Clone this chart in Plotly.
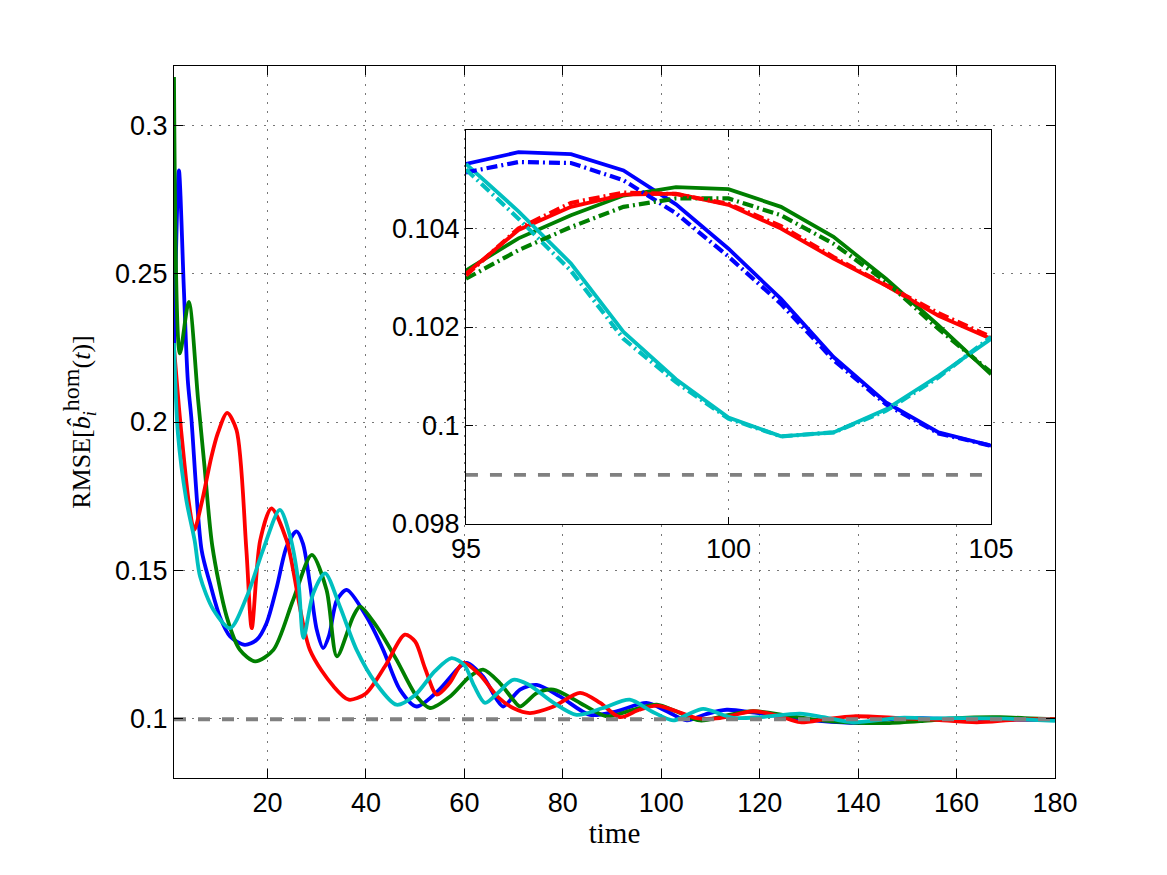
import plotly.graph_objects as go

# ---------------- main panel data (key samples) ----------------
t_blue = [1, 2, 3, 3.8, 4.5, 6.6, 8.3, 10.3, 12.4, 15.4, 17.8, 19.8, 21.9, 23.9, 25.9, 27.2, 28.6, 30, 31.3,
          32.5, 34.1, 36.1, 40.1, 43.5, 46.9, 50.3, 54.9, 59.1, 60.5, 63.8, 66.6, 67.9, 71.3, 74.7, 79.4,
          85.5, 90.9, 97, 101, 105.2, 109, 113.3, 119, 125.5, 132, 140.4, 148.5, 156, 165, 172, 180]
v_blue = [0.225, 0.2848, 0.245, 0.2141, 0.2018, 0.1569, 0.1457, 0.1344, 0.1277, 0.1249, 0.1266, 0.1322, 0.1445,
          0.158, 0.1631, 0.159, 0.1457, 0.130, 0.1238, 0.128, 0.140, 0.1434, 0.1344, 0.1232, 0.1098, 0.1041,
          0.1098, 0.1176, 0.1188, 0.1142, 0.1064, 0.1041, 0.1098, 0.1114, 0.1075, 0.1013, 0.1025, 0.1053,
          0.1026, 0.0994, 0.1015, 0.1030, 0.1020, 0.1005, 0.0993, 0.0986, 0.1002, 0.1000, 0.0995, 0.0997, 0.0995]

t_green = [1, 2.2, 4, 5.9, 7.2, 8.8, 11.7, 14.4, 17.5, 21.2, 25.2, 29, 32, 34.1, 37.4, 38.8, 42.2, 46.2, 50.3,
           53, 57.1, 61.1, 63.8, 67.2, 69.9, 71.3, 74.7, 78.1, 83.5, 88.9, 94.3, 99.1, 103, 107.9, 113,
           118.7, 125, 132, 138, 145.8, 153, 160, 168.8, 175, 180]
v_green = [0.3163, 0.2231, 0.2405, 0.2074, 0.185, 0.158, 0.1344, 0.1232, 0.1193, 0.1232, 0.140, 0.1552, 0.1434,
           0.121, 0.1344, 0.1378, 0.131, 0.1199, 0.1075, 0.1036, 0.1075, 0.1142, 0.1165, 0.112, 0.1064,
           0.1041, 0.1086, 0.1098, 0.1053, 0.1008, 0.1030, 0.1047, 0.1025, 0.0994, 0.1010, 0.1025, 0.1012,
           0.0995, 0.0988, 0.0985, 0.0992, 0.1002, 0.1005, 0.1001, 0.0998]

t_red = [1, 2, 3, 4, 5.1, 6.6, 8.6, 9.9, 11.8, 13.7, 15.7, 16.8, 18.5, 20.8, 23.9, 28.6, 33.4, 36.5, 40, 44,
         47.9, 50, 52, 54.4, 57, 59.8, 63, 67, 70, 73.3, 78, 83.5, 87.6, 91.6, 95.5, 99.1, 103.1, 107.2,
         111.9, 118.7, 124.1, 128.2, 133.6, 139, 148.5, 155.3, 164.1, 172.2, 180]
v_red = [0.225, 0.205, 0.188, 0.173, 0.1636, 0.1726, 0.1883, 0.1962, 0.2031, 0.1973, 0.157, 0.1305, 0.160,
         0.1709, 0.160, 0.1232, 0.1109, 0.1064, 0.1085, 0.118, 0.1283, 0.126, 0.117, 0.1081, 0.112, 0.1188,
         0.115, 0.107, 0.1035, 0.1019, 0.1040, 0.1087, 0.1053, 0.1005, 0.1030, 0.1044, 0.1025, 0.1002,
         0.1002, 0.1025, 0.1008, 0.0988, 0.0999, 0.1008, 0.1002, 0.0997, 0.0988, 0.0997, 0.0998]

t_cyan = [1, 1.8, 3.5, 5.2, 6.3, 9, 12.4, 15.8, 19.1, 22.5, 24.6, 26.3, 27.3, 29.3, 31.7, 34.7, 38.1, 42,
          46.2, 50, 54, 57.4, 60, 62, 64.2, 67, 69.9, 73, 78, 82.8, 88, 93.6, 98, 102.4, 105.5, 108.5,
          114.6, 120, 128.2, 133, 139, 148.5, 155, 162, 170, 180]
v_cyan = [0.2266, 0.196, 0.1737, 0.160, 0.1479, 0.1367, 0.1305, 0.1412, 0.1569, 0.1704, 0.1614, 0.1457,
          0.1272, 0.1423, 0.149, 0.1378, 0.1232, 0.112, 0.1047, 0.108, 0.116, 0.1204, 0.118, 0.111, 0.1053,
          0.109, 0.1131, 0.1115, 0.1055, 0.1013, 0.1035, 0.1064, 0.1025, 0.0994, 0.1015, 0.1033, 0.1003,
          0.1005, 0.1017, 0.1005, 0.0988, 0.1003, 0.1001, 0.1002, 0.1000, 0.0993]

t_ref = [1, 180]
v_ref = [0.0998, 0.0998]

# ---------------- inset data ----------------
t_in = [95, 96, 97, 98, 99, 100, 101, 102, 103, 104, 105]
blue_in = [0.10531, 0.10555, 0.10551, 0.10518, 0.10449, 0.10359, 0.10257, 0.10139, 0.10047, 0.09986, 0.09959]
blue_in_d = [0.10514, 0.10535, 0.10533, 0.10498, 0.10431, 0.10343, 0.10247, 0.10133, 0.10043, 0.09984, 0.09959]
green_in = [0.10315, 0.10380, 0.10427, 0.10467, 0.10484, 0.10480, 0.10444, 0.10383, 0.10298, 0.10203, 0.10104]
green_in_d = [0.10298, 0.10356, 0.10403, 0.10444, 0.10461, 0.10461, 0.10427, 0.10369, 0.10292, 0.10196, 0.10108]
red_in = [0.10308, 0.10397, 0.10444, 0.10469, 0.10471, 0.10448, 0.10400, 0.10339, 0.10284, 0.10223, 0.10176]
red_in_d = [0.10305, 0.10400, 0.10452, 0.10473, 0.10470, 0.10450, 0.10405, 0.10342, 0.10285, 0.10228, 0.10180]
cyan_in = [0.10531, 0.10435, 0.10329, 0.10190, 0.10094, 0.10016, 0.09978, 0.09986, 0.10033, 0.10101, 0.10176]
cyan_in_d = [0.10520, 0.10420, 0.10314, 0.10176, 0.10088, 0.10014, 0.09978, 0.09986, 0.10030, 0.10098, 0.10180]
t_ref_in = [95, 105]
v_ref_in = [0.0990, 0.0990]

x_ticks = [20, 40, 60, 80, 100, 120, 140, 160, 180]
y_ticks = [0.1, 0.15, 0.2, 0.25, 0.3]
y_ticklabels = ["0.1", "0.15", "0.2", "0.25", "0.3"]
xin_ticks = [95, 100, 105]
yin_ticks = [0.098, 0.1, 0.102, 0.104]
yin_ticklabels = ["0.098", "0.1", "0.102", "0.104"]

BLUE, GREEN, RED, CYAN, GRAY = "#0000FF", "#007F00", "#FF0000", "#00BFBF", "#808080"
LW = 3.8
DASHDOT = "11px,4px,2px,4px"

fig = go.Figure()

for t, v, c in [(t_blue, v_blue, BLUE), (t_green, v_green, GREEN), (t_red, v_red, RED), (t_cyan, v_cyan, CYAN)]:
    fig.add_trace(go.Scatter(x=t, y=v, mode="lines", line=dict(color=c, width=LW, shape="spline", smoothing=0.8),
                             showlegend=False, hoverinfo="skip"))
fig.add_trace(go.Scatter(x=t_ref, y=v_ref, mode="lines", line=dict(color=GRAY, width=LW, dash="12px,12px"),
                         showlegend=False, hoverinfo="skip"))

# inset
for y, c in [(blue_in, BLUE), (green_in, GREEN), (red_in, RED), (cyan_in, CYAN)]:
    fig.add_trace(go.Scatter(x=t_in, y=y, mode="lines", line=dict(color=c, width=LW),
                             xaxis="x2", yaxis="y2", showlegend=False, hoverinfo="skip"))
for y, c in [(blue_in_d, BLUE), (green_in_d, GREEN), (red_in_d, RED), (cyan_in_d, CYAN)]:
    fig.add_trace(go.Scatter(x=t_in, y=y, mode="lines", line=dict(color=c, width=LW + 0.4, dash=DASHDOT),
                             xaxis="x2", yaxis="y2", showlegend=False, hoverinfo="skip"))
fig.add_trace(go.Scatter(x=t_ref_in, y=v_ref_in, mode="lines", line=dict(color=GRAY, width=LW, dash="12px,12px"),
                         xaxis="x2", yaxis="y2", showlegend=False, hoverinfo="skip"))

tickfont = dict(family="Liberation Sans, Arial, sans-serif", size=27, color="black")
common = dict(showline=True, linecolor="black", linewidth=1.2, mirror="ticks", ticks="inside",
              tickcolor="black", zeroline=False, showgrid=True, gridcolor="#777777", gridwidth=1,
              griddash="2px,7px", tickfont=tickfont)

ytitle = ('RMSE[<i>b̂</i><sub><i>i</i></sub>'
          '<sup><span style="font-size:24px">hom</span></sup>(<i>t</i>)]')

fig.update_layout(
    width=1167, height=875, autosize=False,
    margin=dict(l=174, r=112, t=66, b=97),
    paper_bgcolor="white", plot_bgcolor="white",
    xaxis=dict(range=[1, 180], tickvals=x_ticks, ticklen=9, domain=[0, 1], anchor="y",
               title=dict(text="time", font=dict(family="Liberation Serif, serif", size=29, color="black"),
                          standoff=4), **common),
    yaxis=dict(range=[0.08, 0.32], tickvals=y_ticks, ticktext=y_ticklabels, ticklen=9, domain=[0, 1],
               anchor="x",
               title=dict(text=ytitle,
                          font=dict(family="Liberation Serif, serif", size=26, color="black"), standoff=16),
               **common),
    xaxis2=dict(range=[95, 105], tickvals=xin_ticks, ticklen=7, domain=[0.3314, 0.9274], anchor="y2",
                **common),
    yaxis2=dict(range=[0.098, 0.106], tickvals=yin_ticks, ticktext=yin_ticklabels, ticklen=7,
                domain=[0.3567, 0.9101], anchor="x2", **common),
)

fig.write_html("out.html")
